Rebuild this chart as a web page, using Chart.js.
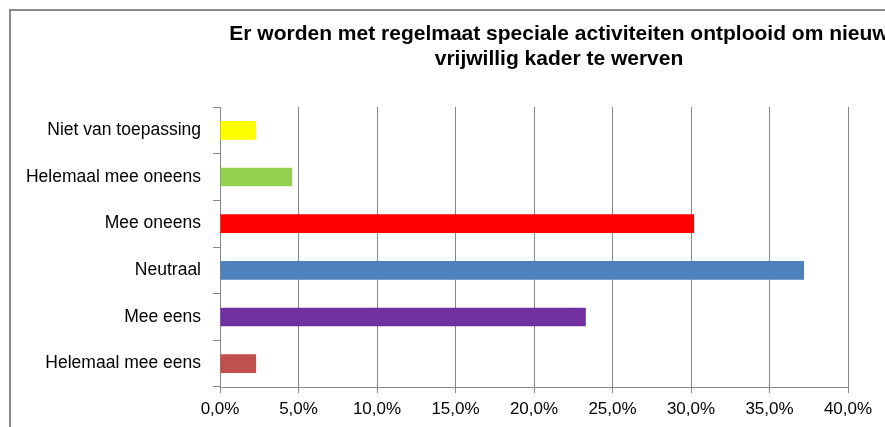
<!DOCTYPE html>
<html>
<head>
<meta charset="utf-8">
<script src="https://cdn.jsdelivr.net/npm/chart.js@4/dist/chart.umd.min.js"></script>
<style>
  html, body { margin: 0; padding: 0; background: #fff; overflow: hidden; }
  #wrap { width: 885px; height: 427px; position: relative; }
</style>
</head>
<body>
<div id="wrap"><canvas id="c" width="885" height="427"></canvas></div>
<script>
const titleLines = ["Er worden met regelmaat speciale activiteiten ontplooid om nieuw", "vrijwillig kader te werven"];
const categories = ["Niet van toepassing", "Helemaal mee oneens", "Mee oneens", "Neutraal", "Mee eens", "Helemaal mee eens"];
const values = [2.3, 4.6, 30.2, 37.2, 23.3, 2.3];
const barColors = ["#FFFF00", "#92D050", "#FF0000", "#4F81BD", "#7030A0", "#C0504D"];
const xTicks = [0, 5, 10, 15, 20, 25, 30, 35, 40];

const FONT = "'Liberation Sans', Arial, sans-serif";

const frameAndTitle = {
  id: 'frameAndTitle',
  beforeDraw(chart) {
    const ctx = chart.ctx;
    ctx.save();
    ctx.fillStyle = '#fff';
    ctx.fillRect(0, 0, chart.width, chart.height);
    ctx.strokeStyle = '#898989';
    ctx.lineWidth = 2;
    ctx.beginPath();
    ctx.moveTo(10, chart.height + 5);
    ctx.lineTo(10, 10);
    ctx.lineTo(chart.width + 5, 10);
    ctx.stroke();
    ctx.restore();
  },
  afterDraw(chart) {
    const ctx = chart.ctx;
    ctx.save();
    ctx.fillStyle = '#000';
    ctx.font = "bold 21px " + FONT;
    ctx.textAlign = 'center';
    ctx.textBaseline = 'alphabetic';
    const cx = 559;
    ctx.fillText(titleLines[0], cx, 40);
    ctx.fillText(titleLines[1], cx, 65);
    ctx.restore();
  }
};

new Chart(document.getElementById('c'), {
  type: 'bar',
  data: {
    labels: categories,
    datasets: [{
      data: values,
      backgroundColor: barColors,
      borderWidth: 0,
      barPercentage: 0.4,
      categoryPercentage: 1.0
    }]
  },
  plugins: [frameAndTitle],
  options: {
    indexAxis: 'y',
    responsive: false,
    animation: false,
    devicePixelRatio: 1,
    layout: { padding: { left: 10, top: 107, right: 37, bottom: 0 } },
    plugins: {
      legend: { display: false },
      title: { display: false },
      tooltip: { enabled: false }
    },
    scales: {
      x: {
        type: 'linear',
        min: 0,
        max: 40,
        afterBuildTicks(scale) { scale.ticks = xTicks.map(v => ({ value: v })); },
        afterFit(scale) { scale.height = 40; },
        grid: {
          color: '#868686',
          lineWidth: 1,
          tickLength: 6,
          drawTicks: true
        },
        border: { color: '#868686', width: 1 },
        ticks: {
          padding: 6,
          color: '#000',
          font: { family: FONT, size: 17 },
          callback: (v) => Number(v).toFixed(1).replace('.', ',') + '%'
        }
      },
      y: {
        afterFit(scale) { scale.width = 210; },
        grid: {
          drawOnChartArea: false,
          drawTicks: true,
          tickLength: 7,
          color: '#868686'
        },
        border: { color: '#868686', width: 1 },
        ticks: {
          padding: 12,
          color: '#000',
          font: { family: FONT, size: 17.5 }
        }
      }
    }
  }
});
</script>
</body>
</html>
